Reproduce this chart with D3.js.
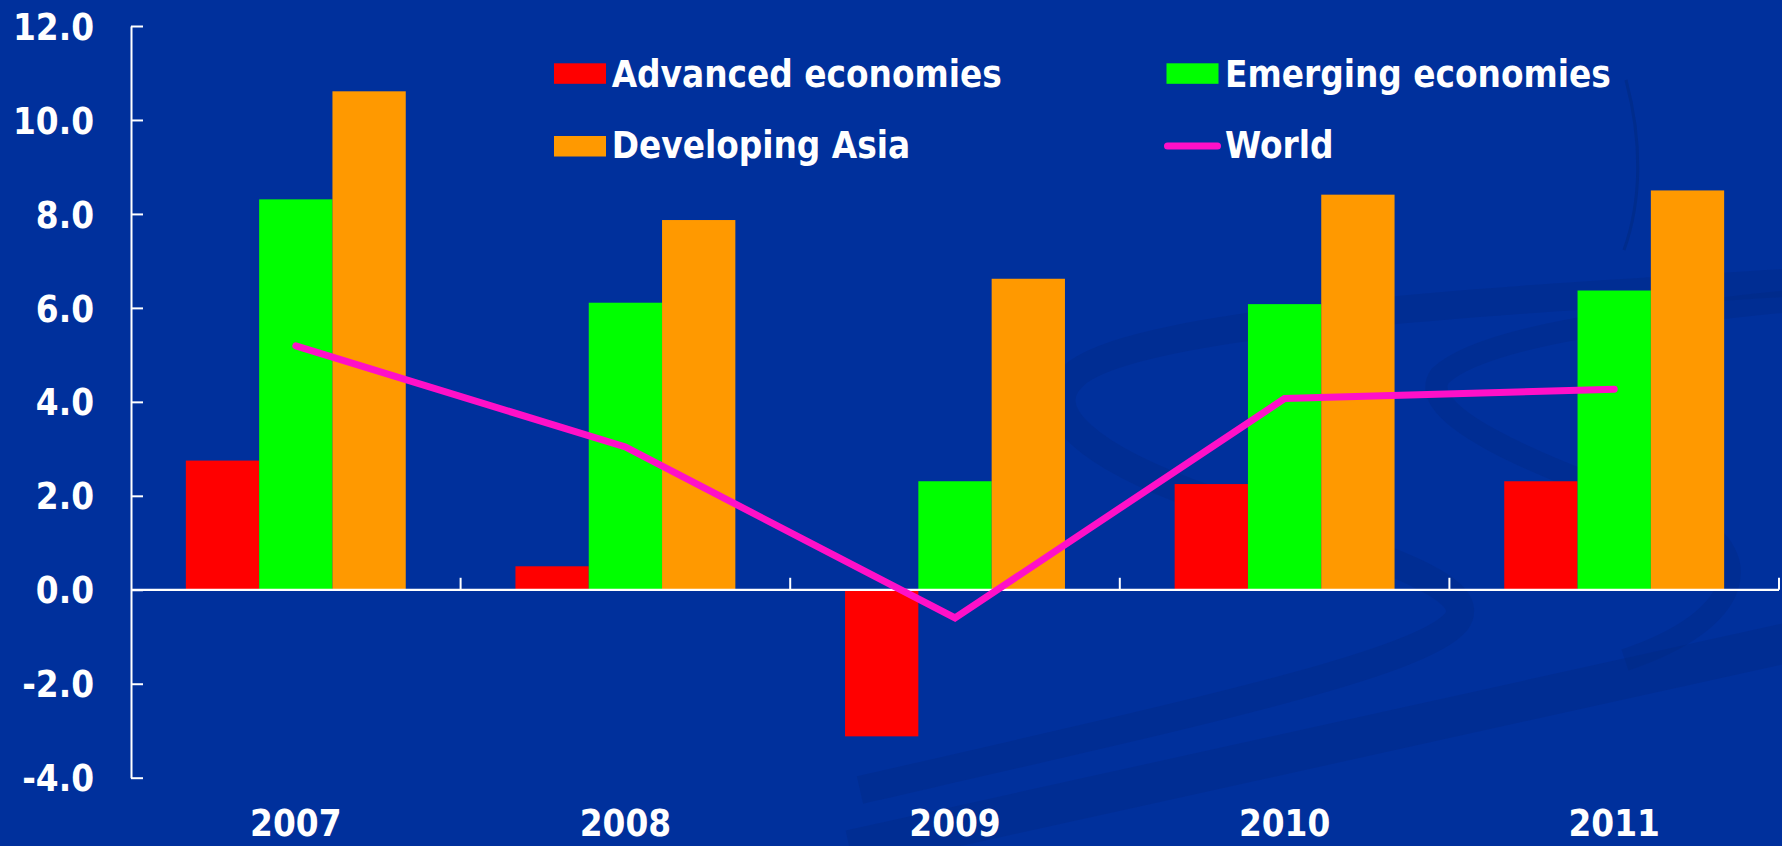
<!DOCTYPE html>
<html>
<head>
<meta charset="utf-8">
<script src="https://cdn.jsdelivr.net/npm/d3@7"></script>
<style>
  html, body { margin: 0; padding: 0; background: #00309C; }
  svg { display: block; }
  text { font-family: "DejaVu Sans Condensed", "DejaVu Sans", sans-serif; font-stretch: condensed; font-weight: bold; fill: #ffffff; }
</style>
</head>
<body>
<svg id="chart" width="1782" height="846"></svg>
<script>
// ---- data ----
const years = ["2007", "2008", "2009", "2010", "2011"];
const seriesNames = ["Advanced economies", "Emerging economies", "Developing Asia"];
const advanced = [2.75, 0.50, -3.12, 2.25, 2.31];
const emerging = [8.31, 6.11, 2.31, 6.08, 6.37];
const developingAsia = [10.61, 7.87, 6.62, 8.41, 8.50];
const world = [5.19, 3.04, -0.60, 4.07, 4.27];
const yTicks = [-4, -2, 0, 2, 4, 6, 8, 10, 12];
const yTickLabels = ["-4.0", "-2.0", "0.0", "2.0", "4.0", "6.0", "8.0", "10.0", "12.0"];
const barColors = ["#FF0000", "#00FF00", "#FF9900"];
const worldColor = "#FF10C8";

const svg = d3.select("#chart");
const W = 1782, H = 846;

// background with faint decorative swooshes
svg.append("rect").attr("width", W).attr("height", H).attr("fill", "#00309C");
const deco = svg.append("g").attr("fill", "none").attr("stroke", "#00287E").attr("stroke-opacity", 0.3).attr("stroke-linecap", "butt");
deco.append("path").attr("stroke-width", 28)
  .attr("d", "M1800,282 C1500,300 1150,320 1078,372 C1030,410 1090,458 1210,500 C1400,560 1480,590 1456,622 C1420,664 1200,712 860,790");
deco.append("path").attr("stroke-width", 22)
  .attr("d", "M1800,300 C1620,318 1480,338 1440,376 C1415,412 1520,462 1680,516 C1760,552 1745,620 1625,660");
deco.append("path").attr("stroke-width", 40)
  .attr("d", "M850,850 C1200,772 1500,708 1800,640");
deco.append("path").attr("stroke-width", 3).attr("stroke-opacity", 0.5)
  .attr("d", "M1626,80 C1642,140 1642,200 1624,250");

// scales
const x = d3.scaleBand().domain(years).range([131, 1779]).paddingInner(0).paddingOuter(0);
const gap = x.bandwidth() * 0.1664;
const x1 = d3.scaleBand().domain(seriesNames).range([gap, x.bandwidth() - gap]).padding(0);
const y = d3.scaleLinear().domain([-4, 12]).range([777.7, 26]);

// bars
const seriesData = [advanced, emerging, developingAsia];
seriesNames.forEach((name, si) => {
  svg.append("g").selectAll("rect")
    .data(years.map((yr, i) => ({ yr, v: seriesData[si][i] })))
    .join("rect")
    .attr("x", d => x(d.yr) + x1(name))
    .attr("width", x1.bandwidth())
    .attr("y", d => y(Math.max(0, d.v)))
    .attr("height", d => Math.abs(y(d.v) - y(0)))
    .attr("fill", barColors[si]);
});

// y axis
const yAxis = d3.axisLeft(y)
  .tickValues(yTicks)
  .tickFormat((d, i) => yTickLabels[i])
  .tickSizeInner(-12).tickSizeOuter(0).tickPadding(37);
const gy = svg.append("g").attr("transform", "translate(131,0)").call(yAxis);
gy.select(".domain").attr("stroke", "#fff").attr("stroke-width", 2);
gy.selectAll(".tick line").attr("stroke", "#fff").attr("stroke-width", 2);
gy.selectAll(".tick text").attr("font-size", 36.5).attr("font-family", null).attr("fill", "#fff").attr("dy", "0.36em");

// zero line with category ticks
const gx = svg.append("g");
gx.append("line").attr("x1", 131).attr("x2", 1779).attr("y1", y(0)).attr("y2", y(0))
  .attr("stroke", "#fff").attr("stroke-width", 2.2);
gx.selectAll("line.t").data(years).join("line").attr("class", "t")
  .attr("x1", d => x(d) + x.bandwidth()).attr("x2", d => x(d) + x.bandwidth())
  .attr("y1", y(0)).attr("y2", y(0) - 12)
  .attr("stroke", "#fff").attr("stroke-width", 2);

// category labels
svg.append("g").selectAll("text").data(years).join("text")
  .attr("x", d => x(d) + x.bandwidth() / 2)
  .attr("y", 836)
  .attr("text-anchor", "middle")
  .attr("font-size", 36.5)
  .text(d => d);

// world line
const line = d3.line().x((d, i) => x(years[i]) + x.bandwidth() / 2).y(d => y(d));
svg.append("path").datum(world)
  .attr("d", line)
  .attr("fill", "none")
  .attr("stroke", worldColor)
  .attr("stroke-width", 7)
  .attr("stroke-linecap", "round")
  .attr("stroke-linejoin", "miter");

// legend
const legend = svg.append("g");
const legendItems = [
  { name: "Advanced economies", type: "rect", color: barColors[0], sx: 554, tx: 611.7, ty: 86.7, ry: 63.3 },
  { name: "Emerging economies", type: "rect", color: barColors[1], sx: 1166.5, tx: 1225, ty: 86.7, ry: 63.3 },
  { name: "Developing Asia", type: "rect", color: barColors[2], sx: 554, tx: 611.7, ty: 158.3, ry: 136 },
  { name: "World", type: "line", color: worldColor, sx: 1166.5, tx: 1225, ty: 158.3, ry: 136 }
];
legendItems.forEach(it => {
  if (it.type === "rect") {
    legend.append("rect").attr("x", it.sx).attr("y", it.ry).attr("width", 52).attr("height", 20.5).attr("fill", it.color);
  } else {
    legend.append("line").attr("x1", it.sx + 1).attr("x2", it.sx + 51).attr("y1", it.ry + 10).attr("y2", it.ry + 10)
      .attr("stroke", it.color).attr("stroke-width", 7).attr("stroke-linecap", "round");
  }
  legend.append("text").attr("x", it.tx).attr("y", it.ty).attr("font-size", 36.5).text(it.name);
});
</script>
</body>
</html>
